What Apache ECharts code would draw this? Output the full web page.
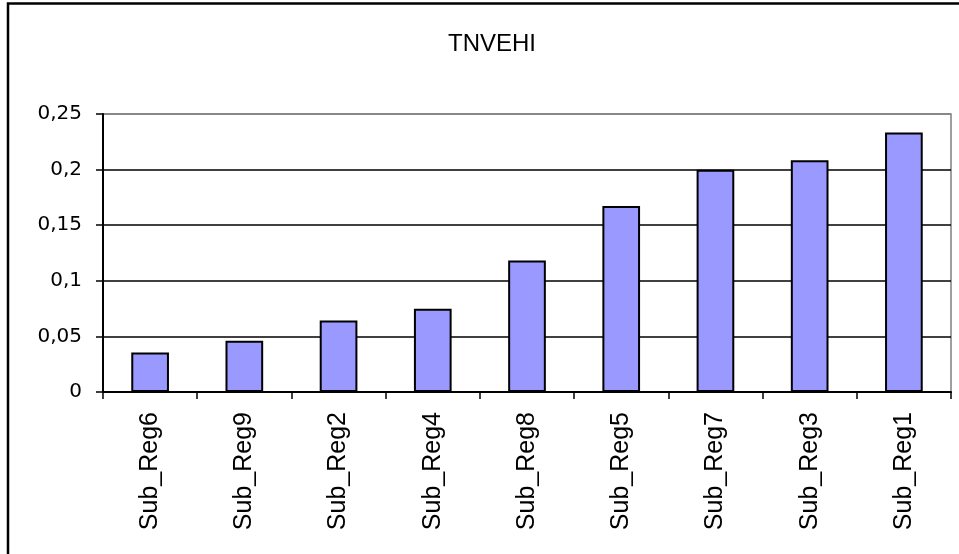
<!DOCTYPE html>
<html>
<head>
<meta charset="utf-8">
<script src="https://cdn.jsdelivr.net/npm/echarts@6/dist/echarts.min.js"></script>
<style>
  html, body { margin: 0; padding: 0; background: #fff; }
  #chart { width: 959px; height: 554px; }
</style>
</head>
<body>
<div id="chart"></div>
<script>
// Sub-regions, sorted from smallest to largest TNVEHI value
const categories = ['Sub_Reg6', 'Sub_Reg9', 'Sub_Reg2', 'Sub_Reg4', 'Sub_Reg8', 'Sub_Reg5', 'Sub_Reg7', 'Sub_Reg3', 'Sub_Reg1'];
const tnvehiValues = [0.0355, 0.046, 0.0643, 0.0748, 0.1183, 0.1673, 0.1998, 0.2085, 0.2333];
const chartTitle = 'TNVEHI';

const chart = echarts.init(document.getElementById('chart'), null, { renderer: 'canvas' });

chart.setOption({
  animation: false,
  backgroundColor: '#ffffff',
  title: {
    text: chartTitle,
    left: 487,
    top: 27,
    textAlign: 'center',
    textStyle: { fontFamily: 'Liberation Sans', fontSize: 24, fontWeight: 'normal', color: '#000' }
  },
  graphic: [{
    // outer chart frame
    type: 'rect',
    shape: { x: 8, y: 3.5, width: 1000, height: 600 },
    style: { fill: null, stroke: '#000', lineWidth: 2.5 },
    silent: true,
    z: -1
  }],
  grid: {
    left: 103, right: 8, top: 114, bottom: 162,
    show: true, borderColor: '#808080', borderWidth: 1.5, backgroundColor: 'transparent'
  },
  xAxis: {
    type: 'category',
    data: categories,
    boundaryGap: true,
    axisLine: { lineStyle: { color: '#000', width: 2 } },
    axisTick: { show: true, alignWithLabel: false, length: 7, lineStyle: { color: '#000', width: 1.5 } },
    axisLabel: {
      rotate: 90, margin: 20, interval: 0,
      fontFamily: 'Liberation Sans', fontSize: 25, color: '#000'
    },
    splitLine: { show: false }
  },
  yAxis: {
    type: 'value',
    min: 0, max: 0.25, interval: 0.05,
    axisLine: { show: true, lineStyle: { color: '#000', width: 2 } },
    axisTick: { show: true, length: 7, lineStyle: { color: '#000', width: 1.5 } },
    axisLabel: {
      margin: 21,
      fontFamily: 'DejaVu Sans', fontSize: 20, color: '#000',
      formatter: v => String(Math.round(v * 100) / 100).replace('.', ',')
    },
    splitLine: { show: true, lineStyle: { color: ['#000', '#000', '#000', '#000', '#000', '#808080'], width: 1.5 } }
  },
  series: [{
    type: 'bar',
    data: tnvehiValues,
    barWidth: '40%',
    itemStyle: { color: '#9999FF', borderColor: '#000', borderWidth: 2 }
  }]
});
</script>
</body>
</html>
